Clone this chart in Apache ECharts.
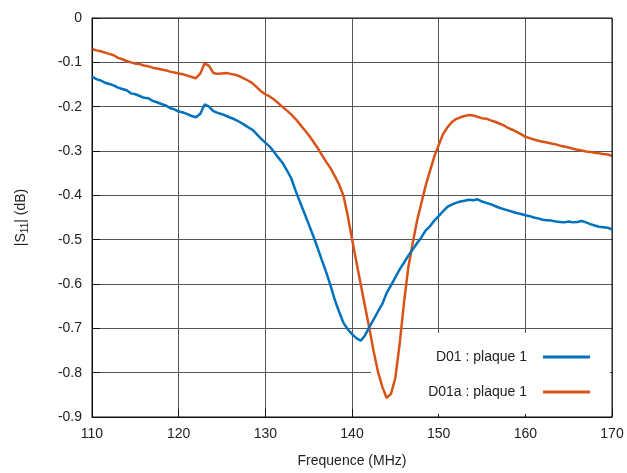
<!DOCTYPE html>
<html>
<head>
<meta charset="utf-8">
<script src="https://cdn.jsdelivr.net/npm/echarts@6/dist/echarts.min.js"></script>
<style>html,body{margin:0;padding:0;background:#fff;}#c{width:627px;height:473px;}</style>
</head>
<body>
<div id="c"></div>
<script>
var freqs = [110,110.5,111,111.5,112,112.5,113,113.5,114,114.5,115,115.5,116,116.5,117,117.5,118,118.5,119,119.5,
120,120.5,121,121.5,122,122.5,123,123.5,124,124.5,125,125.5,126,126.5,127,127.5,128,128.5,129,129.5,
130,130.5,131,131.5,132,132.5,133,133.5,134,134.5,135,135.5,136,136.5,137,137.5,138,138.5,139,139.5,
140,140.5,141,141.5,142,142.5,143,143.5,144,144.5,145,145.5,146,146.5,147,147.5,148,148.5,149,149.5,
150,150.5,151,151.5,152,152.5,153,153.5,154,154.5,155,155.5,156,156.5,157,157.5,158,158.5,159,159.5,
160,160.5,161,161.5,162,162.5,163,163.5,164,164.5,165,165.5,166,166.5,167,167.5,168,168.5,169,169.5,170];

var d01 = [-0.132,-0.138,-0.141,-0.146,-0.149,-0.152,-0.157,-0.160,-0.163,-0.170,
-0.172,-0.176,-0.180,-0.181,-0.187,-0.190,-0.194,-0.197,-0.203,-0.206,
-0.211,-0.213,-0.217,-0.221,-0.224,-0.216,-0.195,-0.200,-0.210,-0.214,
-0.217,-0.221,-0.225,-0.229,-0.234,-0.240,-0.246,-0.252,-0.262,-0.272,
-0.281,-0.290,-0.302,-0.315,-0.327,-0.344,-0.362,-0.390,-0.415,-0.440,
-0.465,-0.490,-0.517,-0.545,-0.572,-0.602,-0.635,-0.662,-0.687,-0.702,
-0.713,-0.722,-0.728,-0.716,-0.697,-0.680,-0.662,-0.645,-0.620,-0.603,
-0.585,-0.567,-0.552,-0.536,-0.522,-0.508,-0.495,-0.479,-0.470,-0.457,
-0.447,-0.436,-0.426,-0.421,-0.417,-0.414,-0.412,-0.410,-0.411,-0.409,
-0.414,-0.417,-0.420,-0.424,-0.428,-0.431,-0.434,-0.437,-0.440,-0.442,
-0.445,-0.447,-0.450,-0.452,-0.455,-0.456,-0.457,-0.459,-0.460,-0.461,
-0.459,-0.461,-0.460,-0.458,-0.461,-0.465,-0.468,-0.471,-0.472,-0.473,-0.477];

var d01a = [-0.070,-0.073,-0.075,-0.078,-0.081,-0.084,-0.090,-0.093,-0.097,-0.100,
-0.103,-0.104,-0.107,-0.109,-0.112,-0.114,-0.116,-0.118,-0.121,-0.123,
-0.125,-0.127,-0.130,-0.133,-0.136,-0.125,-0.102,-0.108,-0.124,-0.126,
-0.125,-0.124,-0.126,-0.128,-0.131,-0.136,-0.141,-0.147,-0.156,-0.165,
-0.172,-0.177,-0.184,-0.192,-0.201,-0.209,-0.218,-0.228,-0.240,-0.252,
-0.264,-0.278,-0.292,-0.308,-0.324,-0.338,-0.356,-0.375,-0.400,-0.445,
-0.498,-0.550,-0.600,-0.650,-0.700,-0.752,-0.798,-0.832,-0.857,-0.848,
-0.812,-0.735,-0.642,-0.562,-0.508,-0.458,-0.418,-0.378,-0.345,-0.312,
-0.287,-0.262,-0.247,-0.235,-0.228,-0.224,-0.221,-0.219,-0.220,-0.223,
-0.226,-0.227,-0.231,-0.234,-0.238,-0.242,-0.248,-0.252,-0.257,-0.262,
-0.268,-0.271,-0.274,-0.277,-0.279,-0.281,-0.283,-0.285,-0.288,-0.290,
-0.292,-0.295,-0.297,-0.299,-0.301,-0.302,-0.304,-0.305,-0.307,-0.308,-0.311];

var seriesNames = ['D01 : plaque 1', 'D01a : plaque 1'];
var xTicks = [110, 170, 10];
var yTicks = [-0.9, 0, 0.1];

function pairs(vals) { return freqs.map(function (f, i) { return [f, vals[i]]; }); }

var chart = echarts.init(document.getElementById('c'), null, { renderer: 'canvas' });
var txt = { color: '#222', fontFamily: 'Liberation Sans, Arial, sans-serif', fontSize: 14 };
chart.setOption({
  animation: false,
  backgroundColor: '#fff',
  grid: { left: 92, right: 15, top: 18, bottom: 55, show: true, borderColor: '#111', borderWidth: 1, backgroundColor: 'transparent', z: 3 },
  xAxis: {
    type: 'value', min: xTicks[0], max: xTicks[1], interval: xTicks[2],
    name: 'Frequence (MHz)', nameLocation: 'middle', nameGap: 37,
    nameTextStyle: txt,
    axisLine: { show: true, onZero: false, lineStyle: { color: '#111' } },
    axisTick: { show: true, inside: true, length: 8, lineStyle: { color: '#111' } },
    axisLabel: Object.assign({ margin: 10 }, txt),
    splitLine: { show: true, lineStyle: { color: '#555', width: 1 } }
  },
  yAxis: {
    type: 'value', min: yTicks[0], max: yTicks[1], interval: yTicks[2],
    name: '|S{sub|11}| (dB)', nameLocation: 'middle', nameGap: 62, nameRotate: 90,
    nameTextStyle: Object.assign({ rich: { sub: { fontSize: 10, verticalAlign: 'bottom', padding: [8, 0, 0, 0], color: '#222', fontFamily: 'Liberation Sans, Arial, sans-serif' } } }, txt),
    axisLine: { show: true, lineStyle: { color: '#111' } },
    axisTick: { show: true, inside: true, length: 8, lineStyle: { color: '#111' } },
    axisLabel: Object.assign({ margin: 10, formatter: function (v) { return v === 0 ? '0' : v.toFixed(1); } }, txt),
    splitLine: { show: true, lineStyle: { color: '#555', width: 1 } }
  },
  legend: {
    orient: 'vertical', align: 'right', right: 17, top: 333, z: 1,
    backgroundColor: '#fff', padding: [17, 20, 15, 57],
    itemGap: 21, itemWidth: 47, itemHeight: 14,
    textStyle: Object.assign({ padding: [0, 11, 0, 0] }, txt),
    data: seriesNames.map(function (n) { return { name: n, icon: 'path://M0,5.5 L48,5.5 L48,8.5 L0,8.5 Z' }; })
  },
  series: [
    { name: seriesNames[0], type: 'line', data: pairs(d01), showSymbol: false, symbol: 'none', color: '#0072bd', lineStyle: { width: 2.5, color: '#0072bd' }, z: 3 },
    { name: seriesNames[1], type: 'line', data: pairs(d01a), showSymbol: false, symbol: 'none', color: '#d95319', lineStyle: { width: 2.5, color: '#d95319' }, z: 2 }
  ]
});
</script>
</body>
</html>
